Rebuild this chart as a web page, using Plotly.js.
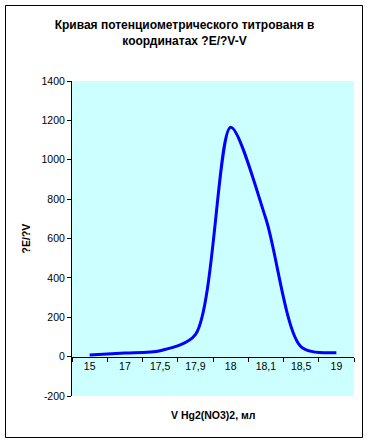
<!DOCTYPE html>
<html>
<head>
<meta charset="utf-8">
<script src="https://cdn.plot.ly/plotly-3.0.1.min.js"></script>
<style>
html,body{margin:0;padding:0;background:#fff;}
#chart{width:369px;height:443px;}
</style>
</head>
<body>
<div id="chart"></div>
<script>
const categories = ["15", "17", "17,5", "17,9", "18", "18,1", "18,5", "19"];
const dEdV = [8, 18, 30, 112, 1165, 700, 50, 20];
const yTicks = [-200, 0, 200, 400, 600, 800, 1000, 1200, 1400];

const W = 369, H = 443;
const M = {l: 72, r: 15, t: 81, b: 47};
const pw = W - M.l - M.r, ph = H - M.t - M.b;
const px = v => (v - M.l) / pw;
const py = v => (H - M.b - v) / ph;

const font = "Liberation Sans, Arial, sans-serif";

const trace = {
  x: categories,
  y: dEdV,
  type: "scatter",
  mode: "lines",
  line: {color: "#0000FF", width: 3, shape: "spline", smoothing: 0.8},
  hoverinfo: "x+y"
};

const layout = {
  width: W, height: H,
  margin: M,
  paper_bgcolor: "#FFFFFF",
  plot_bgcolor: "#CCFFFF",
  showlegend: false,
  font: {family: font, size: 10.5, color: "#000000"},
  title: {
    text: "<b>Кривая потенциометрического титрованя в<br>координатах ?E/?V-V</b>",
    font: {family: font, size: 12, color: "#000000"},
    x: 0.5, xref: "container", xanchor: "center",
    y: 1 - 29/H, yref: "container", yanchor: "middle"
  },
  xaxis: {
    type: "category",
    range: [-0.5, categories.length - 0.5],
    anchor: "free",
    position: 200/1600,
    showline: true, linecolor: "#000000", linewidth: 1,
    ticks: "outside", ticklen: 4, tickcolor: "#000000",
    tickson: "boundaries",
    showgrid: false, zeroline: false,
    tickfont: {family: font, size: 10.5, color: "#000000"},
    fixedrange: true
  },
  yaxis: {
    range: [-200, 1400],
    tickvals: yTicks,
    ticktext: yTicks.map(String),
    showline: true, linecolor: "#000000", linewidth: 1,
    ticks: "outside", ticklen: 4, tickcolor: "#000000",
    showgrid: false, zeroline: false,
    tickfont: {family: font, size: 10.5, color: "#000000"},
    title: {text: "<b>?E/?V</b>", font: {family: font, size: 10.5, color: "#000000"}, standoff: 8},
    fixedrange: true
  },
  annotations: [{
    text: "<b>V Hg2(NO3)2, мл</b>",
    xref: "paper", yref: "paper",
    x: 0.5, y: py(415), xanchor: "center", yanchor: "middle",
    showarrow: false,
    font: {family: font, size: 10.5, color: "#000000"}
  }],
  shapes: [{
    type: "rect", xref: "paper", yref: "paper",
    x0: px(5.5), x1: px(362.5), y0: py(437.5), y1: py(5.5),
    line: {color: "#000000", width: 1}, fillcolor: "rgba(0,0,0,0)", layer: "above"
  }]
};

Plotly.newPlot("chart", [trace], layout, {displayModeBar: false, staticPlot: true});
</script>
</body>
</html>
